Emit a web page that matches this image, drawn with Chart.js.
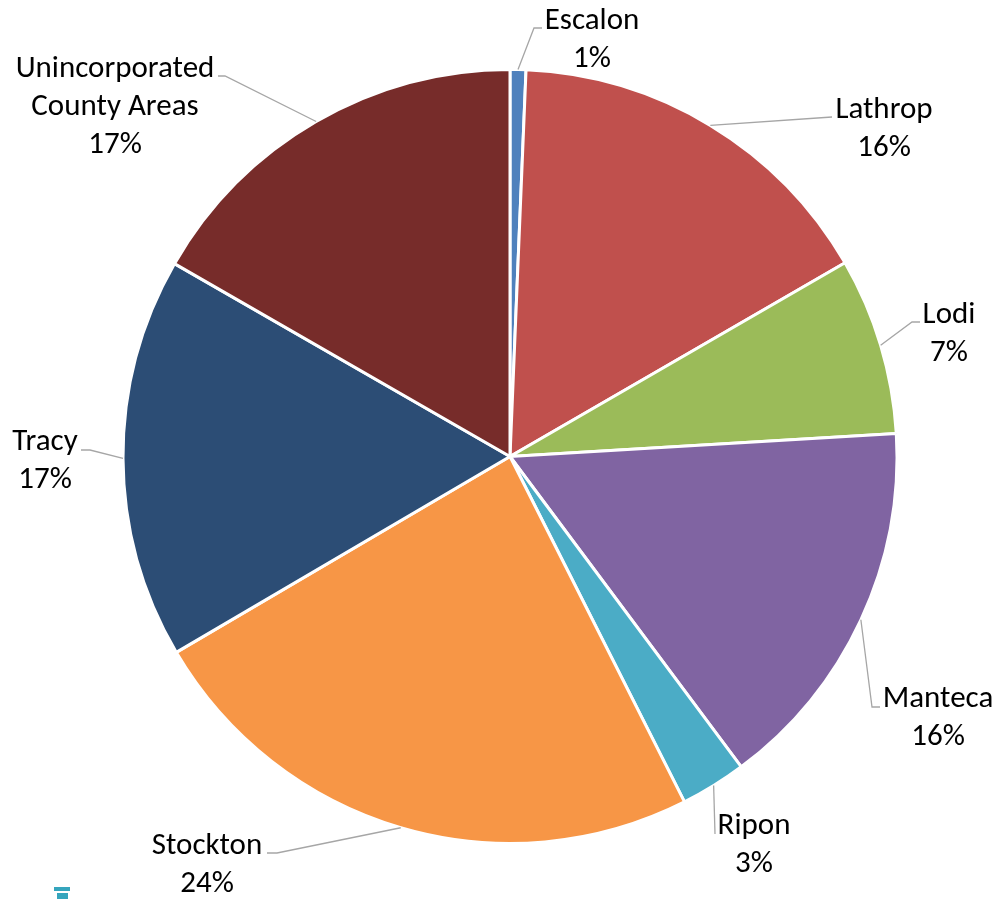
<!DOCTYPE html>
<html>
<head>
<meta charset="utf-8">
<script src="https://cdn.jsdelivr.net/npm/chart.js@4"></script>
<style>
  html, body { margin: 0; padding: 0; background: #fff; overflow: hidden; }
  #wrap { position: absolute; left: 0; top: 0; width: 1005px; height: 899px; }
  #mark { position: absolute; left: 54px; top: 887px; width: 16px; height: 12px; }
  #mark div { background: #35a5bd; height: 4px; margin-bottom: 2px; }
  #mark div + div { width: 11px; margin-left: 3px; height: 6px; }
</style>
</head>
<body>
<div id="wrap"><canvas id="pie"></canvas></div>
<div id="mark"><div></div><div></div></div>
<script>
const categories = ["Escalon", "Lathrop", "Lodi", "Manteca", "Ripon", "Stockton", "Tracy", "Unincorporated County Areas"];
const values = [0.66, 16, 7.4, 15.75, 2.75, 24, 16.75, 16.7];
const percentLabels = ["1%", "16%", "7%", "16%", "3%", "24%", "17%", "17%"];
const colors = ["#4f81bd", "#c0504d", "#9bbb59", "#8064a2", "#4bacc6", "#f79646", "#2c4d75", "#772c2a"];

// label text lines and leader ends, in page pixels
const labelLines = [["Escalon"], ["Lathrop"], ["Lodi"], ["Manteca"], ["Ripon"], ["Stockton"], ["Tracy"], ["Unincorporated", "County Areas"]];
const labelCentres = [[592, 21], [884, 110], [949, 315], [938, 699], [754, 826], [207, 846], [45, 442], [115, 69]];
const leaderPaths = [
  [[534, 28], [542, 28]],
  [[832, 117]],
  [[912, 322], [920, 322]],
  [[872, 707], [880, 707]],
  [[715, 834]],
  [[277, 853], [267, 853]],
  [[90, 450], [81, 450]],
  [[225, 76], [218, 76]]
];

const labelPlugin = {
  id: "sliceLabels",
  afterDatasetsDraw(chart) {
    const ctx = chart.ctx;
    const arcs = chart.getDatasetMeta(0).data;
    ctx.save();
    arcs.forEach((arc, i) => {
      const mid = (arc.startAngle + arc.endAngle) / 2;
      ctx.strokeStyle = "#a6a6a6";
      ctx.lineWidth = 1.3;
      ctx.beginPath();
      ctx.moveTo(arc.x + Math.cos(mid) * arc.outerRadius, arc.y + Math.sin(mid) * arc.outerRadius);
      leaderPaths[i].forEach(p => ctx.lineTo(p[0], p[1]));
      ctx.stroke();

      ctx.fillStyle = "#000";
      ctx.font = "31px Carlito, Lato, 'Open Sans', sans-serif";
      ctx.textAlign = "center";
      ctx.textBaseline = "middle";
      const lines = labelLines[i].concat(percentLabels[i]);
      lines.forEach((t, n) => ctx.fillText(t, labelCentres[i][0], labelCentres[i][1] + n * 38));
    });
    ctx.restore();
  }
};

new Chart(document.getElementById("pie"), {
  type: "pie",
  data: {
    labels: categories,
    datasets: [{
      data: values,
      backgroundColor: colors,
      borderColor: "#fff",
      borderWidth: 3,
      borderAlign: "center"
    }]
  },
  options: {
    responsive: true,
    maintainAspectRatio: false,
    animation: false,
    radius: 387,
    layout: { padding: { left: 124, right: 109, top: 70, bottom: 56 } },
    plugins: { legend: { display: false }, tooltip: { enabled: false } }
  },
  plugins: [labelPlugin]
});
</script>
</body>
</html>
